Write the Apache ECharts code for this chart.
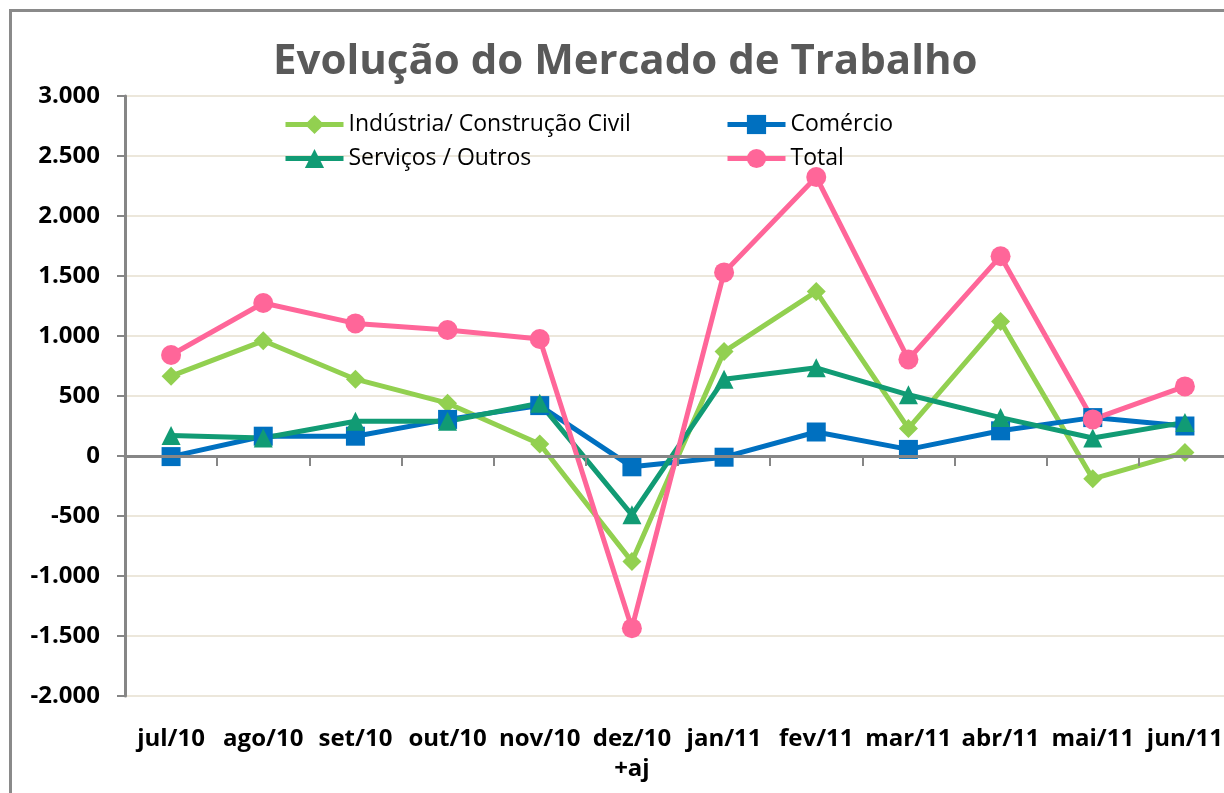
<!DOCTYPE html>
<html>
<head>
<meta charset="utf-8">
<title>Evolução do Mercado de Trabalho</title>
<script src="https://cdn.jsdelivr.net/npm/echarts@6/dist/echarts.min.js"></script>
<style>
  html, body { margin: 0; padding: 0; background: #fff; overflow: hidden; }
  #chart { position: absolute; left: 0; top: 0; width: 1224px; height: 793px; }
  #frame {
    position: absolute; left: 9px; top: 9px; width: 1300px; height: 900px;
    border-left: 3px solid #8a8a8a; border-top: 3px solid #8a8a8a;
    pointer-events: none;
  }
</style>
</head>
<body>
<div id="chart"></div>
<div id="frame"></div>
<script>
// meses
const months = ['jul/10', 'ago/10', 'set/10', 'out/10', 'nov/10', 'dez/10\n+aj',
  'jan/11', 'fev/11', 'mar/11', 'abr/11', 'mai/11', 'jun/11']

const industria = [665, 960, 640, 440, 100, -880, 870, 1370, 230, 1120, -190, 30]
const comercio = [-5, 165, 165, 305, 420, -90, -10, 200, 55, 210, 320, 250]
const servicos = [170, 150, 290, 290, 440, -490, 640, 735, 510, 320, 150, 280]
const total = [842, 1275, 1105, 1050, 975, -1435, 1530, 2325, 805, 1665, 305, 580]

const yMin = -2000
const yMax = 3000
const yStep = 500

const FONT = '"Open Sans", "Liberation Sans", sans-serif'
const GRAY = '#868686'

function fmt(v) {
  return String(v).replace(/\B(?=(\d{3})+(?!\d))/g, '.')
}

function lineSeries(name, data, color, symbol, size) {
  return {
    name: name,
    type: 'line',
    xAxisIndex: 0,
    data: data,
    symbol: symbol,
    symbolSize: size,
    lineStyle: { color: color, width: 5 },
    itemStyle: { color: color },
    emphasis: { disabled: true },
    z: 3
  }
}

function legendBox(names, left) {
  return {
    data: names,
    orient: 'vertical',
    left: left,
    top: 113,
    padding: 0,
    itemWidth: 58,
    itemHeight: 24,
    itemGap: 11,
    lineStyle: { width: 5 },
    textStyle: { fontFamily: FONT, fontSize: 23, color: '#000' }
  }
}

const chart = echarts.init(document.getElementById('chart'))

chart.setOption({
  animation: false,
  backgroundColor: '#fff',
  title: {
    text: 'Evolução do Mercado de Trabalho',
    left: 273,
    top: 41,
    padding: 0,
    textStyle: {
      fontFamily: FONT,
      fontSize: 42,
      fontWeight: 'bold',
      color: '#595959'
    }
  },
  legend: [
    legendBox(['Indústria/ Construção Civil', 'Serviços / Outros'], 283),
    legendBox(['Comércio', 'Total'], 725)
  ],
  grid: {
    left: 125,
    right: -7,
    top: 96,
    bottom: 97,
    containLabel: false,
    outerBoundsMode: 'none'
  },
  xAxis: [
    {
      type: 'category',
      data: months,
      boundaryGap: true,
      axisLine: { onZero: true, lineStyle: { color: GRAY, width: 3 } },
      axisTick: { show: true, length: 10, lineStyle: { color: GRAY, width: 2 } },
      axisLabel: { show: false },
      splitLine: { show: false },
      z: 4
    },
    {
      type: 'category',
      data: months,
      position: 'bottom',
      boundaryGap: true,
      axisLine: { show: false, onZero: false },
      axisTick: { show: false },
      axisLabel: {
        margin: 28,
        fontFamily: FONT,
        fontSize: 24,
        fontWeight: 'bold',
        lineHeight: 30,
        color: '#000',
        interval: 0
      },
      splitLine: { show: false }
    }
  ],
  yAxis: {
    type: 'value',
    min: yMin,
    max: yMax,
    interval: yStep,
    axisLine: { show: true, lineStyle: { color: GRAY, width: 3 } },
    axisTick: { show: true, length: 8, lineStyle: { color: GRAY, width: 2 } },
    axisLabel: {
      margin: 25,
      fontFamily: FONT,
      fontSize: 24,
      fontWeight: 'bold',
      color: '#000',
      formatter: fmt
    },
    splitLine: { show: true, lineStyle: { color: '#ECE7DB', width: 2 } }
  },
  series: [
    lineSeries('Indústria/ Construção Civil', industria, '#92D050', 'diamond', 19),
    lineSeries('Comércio', comercio, '#0070C0', 'rect', 19),
    lineSeries('Serviços / Outros', servicos, '#119B74', 'triangle', 19),
    lineSeries('Total', total, '#FF6699', 'circle', 20)
  ]
})
</script>
</body>
</html>
